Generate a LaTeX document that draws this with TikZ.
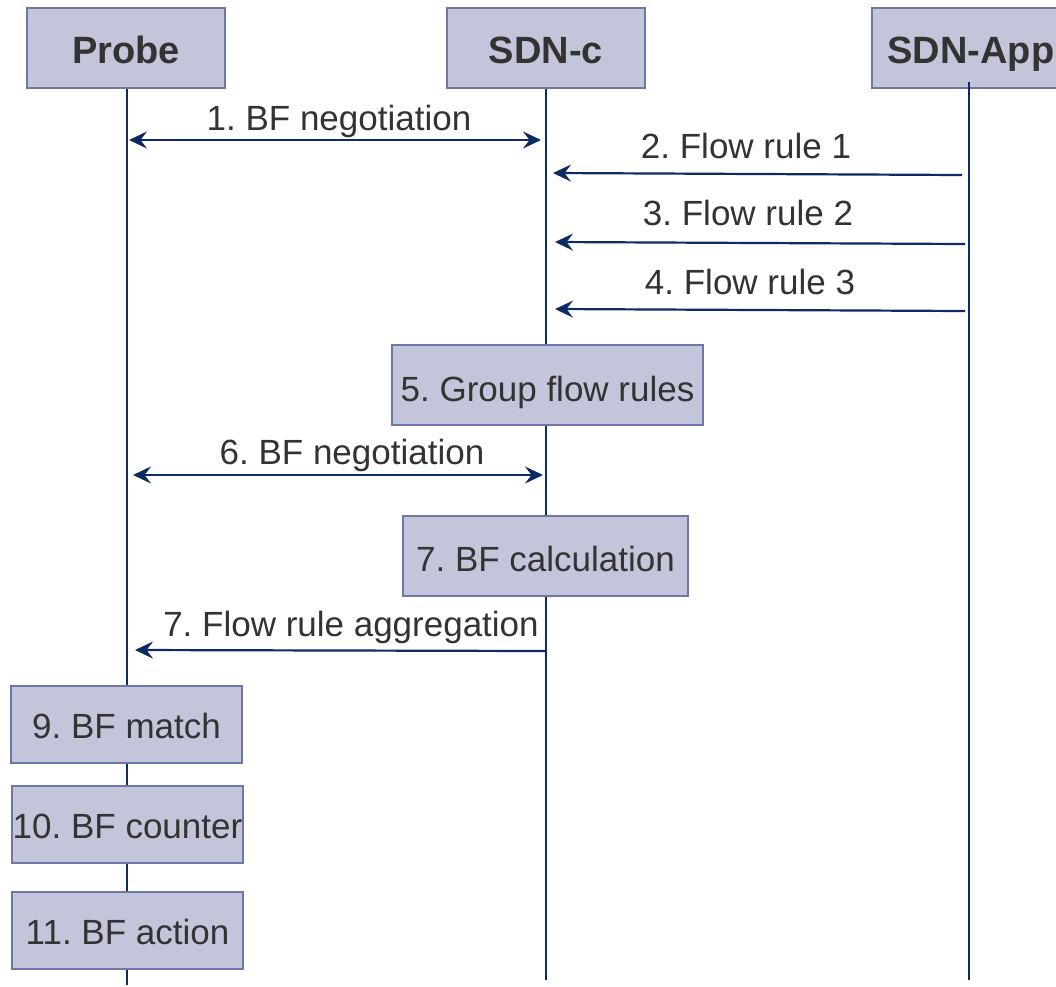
\documentclass[tikz,border=0pt]{standalone}
\usepackage{fontspec}
\setmainfont{Liberation Sans}
\usetikzlibrary{arrows.meta}
\definecolor{boxfill}{HTML}{C3C6DA}
\definecolor{boxline}{HTML}{6C79A6}
\definecolor{wire}{HTML}{0D2B62}
\definecolor{ink}{HTML}{333333}
\frenchspacing
\tikzset{
  tip/.tip={Stealth[length=18pt,width=17pt,inset=6.5pt]},
  actor/.style={draw=boxline, fill=boxfill, line width=2pt, minimum width=198pt,
    minimum height=80pt, inner sep=0pt, text=ink, text height=31pt, text depth=0pt,
    font=\fontsize{38}{44}\selectfont\bfseries},
  stepbox/.style={draw=boxline, fill=boxfill, line width=2pt, inner sep=0pt,
    text=ink, text height=27pt, text depth=0pt, font=\fontsize{35}{42}\selectfont},
  lifeline/.style={draw=wire, line width=2pt},
  msg/.style={draw=wire, line width=2.2pt, -tip},
  dmsg/.style={draw=wire, line width=2.2pt, tip-tip},
  lbl/.style={anchor=base, inner sep=0pt, text=ink, font=\fontsize{35}{42}\selectfont},
}
\begin{document}
\begin{tikzpicture}[x=1pt, y=-1pt]
\useasboundingbox (0,0) rectangle (1056,986);
\clip (0,0) rectangle (1056,986);

% participants
\node[actor] (probe) at (126,48) {Probe};
\node[actor] (ctrl)  at (546,48) {SDN-c};
\node[actor] (app)   at (971,48) {SDN-App};

% lifeline ends
\coordinate (probeEnd) at (127,985);
\coordinate (ctrlEnd)  at (546,980);
\coordinate (appTop)   at (969,82);
\coordinate (appEnd)   at (969,980);

\draw[lifeline] (probe.south -| probeEnd) -- (probeEnd);
\draw[lifeline] (ctrl.south -| ctrlEnd) -- (ctrlEnd);
\draw[lifeline] (appTop) -- (appEnd);

% activity boxes on the lifelines
\node[stepbox, minimum width=311pt, minimum height=80pt, text height=33pt] (group) at (547.5,385) {5. Group flow rules};
\node[stepbox, minimum width=285pt, minimum height=80pt, text height=31pt] (calc)  at (545.5,556) {7. BF calculation};
\node[stepbox, minimum width=231pt, minimum height=77pt] (match) at (126.5,724.5) {9. BF match};
\node[stepbox, minimum width=231pt, minimum height=77pt] (count) at (127.5,824.5) {10. BF counter};
\node[stepbox, minimum width=231pt, minimum height=77pt, text height=29pt] (act) at (127.5,930) {11. BF action};

% message end points
\coordinate (m1a) at (129,140);  \coordinate (m1b) at (541,140);
\coordinate (m2a) at (962,175);  \coordinate (m2b) at (553,173);
\coordinate (m3a) at (965,244);  \coordinate (m3b) at (555,242);
\coordinate (m4a) at (965,311);  \coordinate (m4b) at (555,309);
\coordinate (m6a) at (133,475);  \coordinate (m6b) at (543,475);
\coordinate (m7a) at (546,651);  \coordinate (m7b) at (135,650);

% messages
\draw[dmsg] (m1a) -- (m1b);
\draw[msg] (m2a) -- (m2b);
\draw[msg] (m3a) -- (m3b);
\draw[msg] (m4a) -- (m4b);
\draw[dmsg] (m6a) -- (m6b);
\draw[msg] (m7a) -- (m7b);

% message labels
\node[lbl] (l1) at (339,130) {1. BF negotiation};
\node[lbl] (l2) at (746,158) {2. Flow rule 1};
\node[lbl] (l3) at (748,225) {3. Flow rule 2};
\node[lbl] (l4) at (750,294) {4. Flow rule 3};
\node[lbl] (l6) at (352,464) {6. BF negotiation};
\node[lbl] (l7) at (351,636) {7. Flow rule aggregation};
\end{tikzpicture}
\end{document}
